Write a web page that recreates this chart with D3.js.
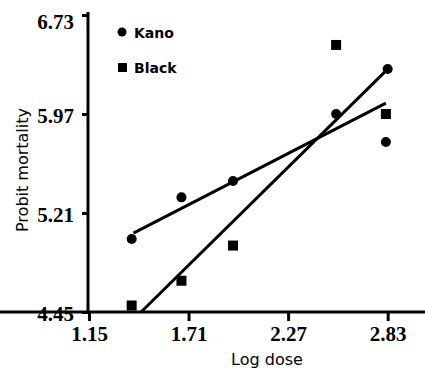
<!DOCTYPE html>
<html><head><meta charset="utf-8">
<script src="https://cdn.jsdelivr.net/npm/d3@7"></script>
<style>body{margin:0;background:#fff}</style>
</head><body>
<svg id="c" width="425" height="370"></svg>
<script>
const xTicks = [1.15, 1.71, 2.27, 2.83];
const yTicks = [4.45, 5.21, 5.97, 6.73];
const kanoX = [1.39, 1.67, 1.96, 2.54, 2.83, 2.82];
const kanoY = [5.01, 5.33, 5.455, 5.97, 6.315, 5.755];
const blackX = [1.39, 1.67, 1.96, 2.54, 2.82];
const blackY = [4.50, 4.69, 4.96, 6.50, 5.97];
const kanoFitX = [1.40, 2.82];
const kanoFitY = [5.056, 6.054];
const blackFitX = [1.443, 2.83];
const blackFitY = [4.45, 6.315];

const svg = d3.select("#c");
const x = d3.scaleLinear().domain([1.15, 3.04]).range([89, 425]);
const y = d3.scaleLinear().domain([4.45, 6.73]).range([312, 15]);

// axes
const ax = svg.append("g").attr("transform","translate(0,312)")
  .call(d3.axisBottom(x).tickValues(xTicks).tickFormat(d3.format(".2f")).tickSize(9).tickSizeOuter(0).tickPadding(5));
const ay = svg.append("g").attr("transform","translate(88,0)")
  .call(d3.axisLeft(y).tickValues(yTicks).tickFormat(d3.format(".2f")).tickSize(6).tickSizeOuter(0).tickPadding(8));
[ax, ay].forEach(g => {
  g.selectAll("path").attr("stroke","#000").attr("stroke-width",3);
  g.selectAll("line").attr("stroke","#000").attr("stroke-width",3);
  g.selectAll("text").attr("fill","#000").style("font-family","'Liberation Serif', serif")
    .style("font-size","21px").style("font-weight","bold");
});
ay.selectAll("text").attr("dy","0.42em");
ay.selectAll(".tick").filter(d => d === 6.73).select("text").attr("dy","0.62em");
ay.select("path").attr("d","M0,313V12");
ax.select("path").attr("d","M-1.5,0H425");

// fit lines
const line = d3.line().x(d=>x(d[0])).y(d=>y(d[1]));
svg.append("path").datum(kanoFitX.map((v,i)=>[v,kanoFitY[i]])).attr("d",line)
  .attr("stroke","#000").attr("stroke-width",3).attr("fill","none");
svg.append("path").datum(blackFitX.map((v,i)=>[v,blackFitY[i]])).attr("d",line)
  .attr("stroke","#000").attr("stroke-width",3).attr("fill","none");

// points
svg.selectAll("circle.k").data(kanoX.map((v,i)=>[v,kanoY[i]])).enter().append("circle")
  .attr("cx",d=>x(d[0])).attr("cy",d=>y(d[1])).attr("r",5).attr("fill","#000");
svg.selectAll("rect.b").data(blackX.map((v,i)=>[v,blackY[i]])).enter().append("rect")
  .attr("x",d=>x(d[0])-5).attr("y",d=>y(d[1])-5).attr("width",10).attr("height",10).attr("fill","#000");

// legend
svg.append("circle").attr("cx",122).attr("cy",32).attr("r",4.5).attr("fill","#000");
svg.append("text").attr("x",134).attr("y",38).text("Kano")
  .style("font-family","'DejaVu Sans', sans-serif").style("font-weight","bold").style("font-size","14px");
svg.append("rect").attr("x",118).attr("y",63).attr("width",9).attr("height",9).attr("fill","#000");
svg.append("text").attr("x",134).attr("y",73).text("Black")
  .style("font-family","'DejaVu Sans', sans-serif").style("font-weight","bold").style("font-size","14px");

// axis titles
svg.append("text").attr("x",267).attr("y",365).attr("text-anchor","middle").text("Log dose")
  .style("font-family","'DejaVu Sans', sans-serif").style("font-size","16px");
svg.append("text").attr("transform","translate(28,170) rotate(-90)").attr("text-anchor","middle").text("Probit mortality")
  .style("font-family","'DejaVu Sans', sans-serif").style("font-size","16px");
</script>
</body></html>
